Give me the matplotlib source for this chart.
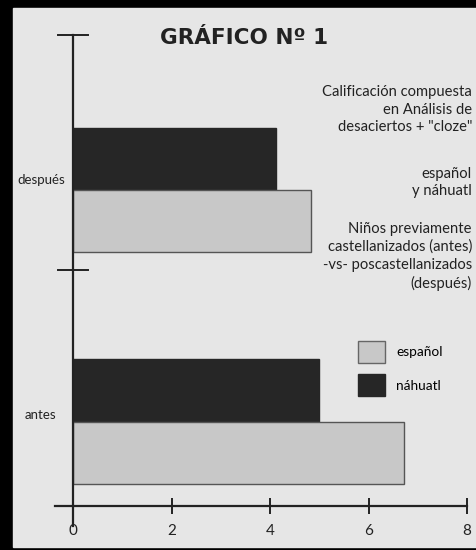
"""GRAFICO No 1 - calificacion compuesta, antes vs despues"""
import matplotlib.pyplot as plt
from matplotlib.patches import Rectangle, Patch

groups = ["antes", "después"]
espanol = [6.73, 4.83]
nahuatl = [5.0, 4.12]
xticks = [0, 2, 4, 6, 8]

note_lines = ["Calificación compuesta", "en Análisis de", "desaciertos + \"cloze\""]
lang_lines = ["español", "y náhuatl"]
kids_lines = ["Niños previamente", "castellanizados (antes)",
              "-vs- poscastellanizados", "(después)"]

W, H = 476, 550
fig = plt.figure(figsize=(W / 100, H / 100), dpi=100, facecolor="black")
bg = "#e6e6e6"
fig.patches.append(Rectangle((13 / W, 1 - 547 / H), 1, (547 - 8) / H,
                             transform=fig.transFigure, color=bg, zorder=-5))

txt_font = ["Lato", "DejaVu Sans"]
ink = "#222222"

ax = fig.add_axes([73 / W, 1 - 506 / H, 394 / W, 471 / H])
ax.set_facecolor("none")
ax.set_zorder(2)
ymin, ymax = -0.365, 1.67
ax.set_xlim(0, 8)
ax.set_ylim(ymin, ymax)

h = 0.268
pos = list(range(len(groups)))
ax.barh([p + h / 2 for p in pos], nahuatl, height=h, color="#262626",
        edgecolor="#262626", lw=1, zorder=3)
ax.barh([p - h / 2 for p in pos], espanol, height=h, color="#c8c8c8",
        edgecolor="#555555", lw=1, zorder=3)

for s in ax.spines.values():
    s.set_visible(False)

# axis lines drawn by hand so they run past the corner
ax.plot([0, 0], [ymin - 0.085, ymax], color=ink, lw=1.6, clip_on=False, zorder=4)
ax.plot([-0.37, 8], [ymin, ymin], color=ink, lw=1.6, clip_on=False, zorder=4)
for y in [0.654, ymax]:
    ax.plot([-0.3, 0.3], [y, y], color=ink, lw=1.4, clip_on=False, zorder=4)

ax.set_xticks(xticks)
ax.set_xticklabels([str(v) for v in xticks], fontsize=11, family=txt_font, color=ink)
ax.tick_params(axis="x", direction="inout", length=12, width=1.4, color=ink, pad=7)
ax.get_xticklines()[0].set_visible(False)
ax.get_xticklines()[1].set_visible(False)
ax.set_yticks([])

# group labels sit a little left of the axis, not right-aligned
yt = ax.get_yaxis_transform()
ax.text(-0.124, 0.028, groups[0], transform=yt, ha="left", va="center",
        fontsize=9.5, family=txt_font, color=ink)
ax.text(-0.14, 1.043, groups[1], transform=yt, ha="left", va="center",
        fontsize=9.5, family=txt_font, color=ink)

fig.text(244 / W, 1 - 38 / H, "GRÁFICO Nº 1", ha="center", va="center",
         fontsize=15.5, fontweight="bold", family="DejaVu Sans", color=ink)

def block(lines, y0, step):
    for i, s in enumerate(lines):
        fig.text(472 / W, 1 - (y0 + i * step) / H, s, ha="right", va="center",
                 fontsize=10.6, family=txt_font, color=ink)

block(note_lines, 92, 17.5)
block(lang_lines, 174, 16.5)
block(kids_lines, 229, 18)

handles = [Patch(facecolor="#c8c8c8", edgecolor="#666666", label="español"),
           Patch(facecolor="#262626", edgecolor="#262626", label="náhuatl")]
fig.legend(handles=handles, loc="upper left", bbox_to_anchor=(351 / W, 1 - 334 / H),
           frameon=False, borderpad=0, handlelength=2.0, handleheight=2.1,
           labelspacing=0.85, handletextpad=0.8, prop={"family": txt_font, "size": 9.8})

fig.savefig("out.png", dpi=100, facecolor="black")
